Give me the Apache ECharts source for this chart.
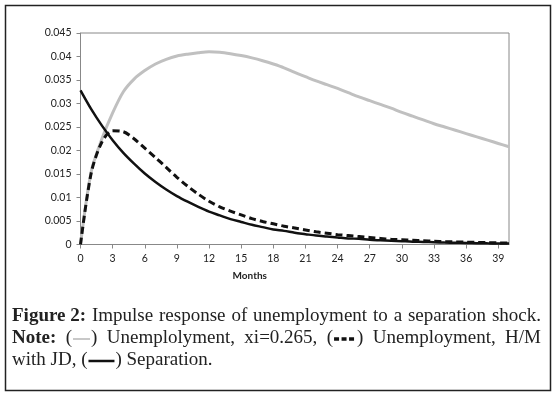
<!DOCTYPE html>
<html><head><meta charset="utf-8">
<script src="https://cdn.jsdelivr.net/npm/echarts@6/dist/echarts.min.js"></script>
<style>html,body{margin:0;padding:0;background:#fff}#c{width:557px;height:397px}</style>
</head><body><div id="c"></div>
<script>
var months = [];
for (var i = 0; i <= 40; i++) months.push(String(i));
var yTicks = [0, 0.005, 0.01, 0.015, 0.02, 0.025, 0.03, 0.035, 0.04, 0.045];
var unempXi = [0, 0.0155, 0.0225, 0.0280, 0.0325, 0.0352, 0.0370, 0.0384, 0.0394, 0.0401,
  0.0405, 0.0408, 0.0410, 0.0409, 0.0406, 0.0402, 0.0397, 0.0391, 0.0384, 0.0376,
  0.0366, 0.0357, 0.0348, 0.0340, 0.0332, 0.0323, 0.0314, 0.0306, 0.0298, 0.0290,
  0.0281, 0.0273, 0.0265, 0.0257, 0.0250, 0.0243, 0.0236, 0.0229, 0.0222, 0.0215, 0.0208];
var unempHM = [0, 0.0152, 0.0218, 0.0242, 0.0240, 0.0225, 0.0205, 0.0185, 0.0164, 0.0143,
  0.0124, 0.0107, 0.0092, 0.0080, 0.0071, 0.0063, 0.0055, 0.0049, 0.0044, 0.0039,
  0.0035, 0.0031, 0.0027, 0.0024, 0.0021, 0.0019, 0.0017, 0.0015, 0.0013, 0.0011,
  0.0010, 0.0009, 0.0008, 0.0007, 0.0006, 0.00055, 0.0005, 0.00045, 0.0004, 0.00035, 0.0003];
var separation = [0.0328, 0.0288, 0.0253, 0.0222, 0.0195, 0.0172, 0.0151, 0.0133, 0.0117, 0.0103,
  0.0091, 0.0080, 0.0070, 0.0062, 0.0054, 0.0048, 0.0042, 0.0037, 0.0032, 0.0029,
  0.0025, 0.0022, 0.0019, 0.0017, 0.0015, 0.0013, 0.0012, 0.0010, 0.0009, 0.0008,
  0.0007, 0.0006, 0.00055, 0.00048, 0.00042, 0.00037, 0.00033, 0.00029, 0.00025, 0.00022, 0.0002];
var seriesNames = ['Unemplolyment, xi=0.265', 'Unemployment, H/M with JD', 'Separation'];
var xTitle = 'Months';
// caption lines: words made of parts (text or legend glyph)
var captionLines = [
  {justify: true, words: [[{t: 'Figure 2:', b: 1}], [{t: 'Impulse'}], [{t: 'response'}], [{t: 'of'}], [{t: 'unemployment'}], [{t: 'to'}], [{t: 'a'}], [{t: 'separation'}], [{t: 'shock.'}]]},
  {justify: true, words: [[{t: 'Note:', b: 1}], [{t: '('}, {g: 'gray'}, {t: ')'}], [{t: 'Unemplolyment,'}], [{t: 'xi=0.265,'}], [{t: '('}, {g: 'dash'}, {t: ')'}], [{t: 'Unemployment,'}], [{t: 'H/M'}]]},
  {justify: false, words: [[{t: 'with'}], [{t: 'JD,'}], [{t: '('}, {g: 'solid'}, {t: ')'}], [{t: 'Separation.'}]]}
];

var serif = '"Liberation Serif", "DejaVu Serif", serif';
var capSize = 19;
var glyphs = {
  gray: {w: 17, stroke: '#c8c8c8', lw: 2, dash: null},
  dash: {w: 22, stroke: '#111', lw: 3.5, dash: [5, 2.5]},
  solid: {w: 26, stroke: '#111', lw: 2.5, dash: null}
};
var mctx = document.createElement('canvas').getContext('2d');
function tw(s, b) {
  mctx.font = (b ? 'bold ' : '') + capSize + 'px ' + serif;
  return mctx.measureText(s).width;
}
function partW(p) { return p.g ? glyphs[p.g].w + 2 : tw(p.t, p.b); }
function wordW(w) { var s = 0; w.forEach(function (p) { s += partW(p); }); return s; }
var capLeft = 12, capRight = 541, capY0 = 316, capLH = 22;
var capGraphics = [];
captionLines.forEach(function (line, li) {
  var y = capY0 + li * capLH;
  var total = 0;
  line.words.forEach(function (w) { total += wordW(w); });
  var gap = line.justify ? (capRight - capLeft - total) / (line.words.length - 1) : tw(' ', 0);
  var x = capLeft;
  line.words.forEach(function (w) {
    w.forEach(function (p) {
      if (p.g) {
        var g = glyphs[p.g];
        var st = {stroke: g.stroke, lineWidth: g.lw};
        if (g.dash) st.lineDash = g.dash;
        capGraphics.push({type: 'line', silent: true, shape: {x1: x + 1, y1: y + 1, x2: x + 1 + g.w, y2: y + 1}, style: st});
      } else {
        capGraphics.push({type: 'text', silent: true, x: x, y: y, style: {text: p.t, fontFamily: serif, fontSize: capSize,
          fontWeight: p.b ? 'bold' : 'normal', fill: '#222', textAlign: 'left', textVerticalAlign: 'middle'}});
      }
      x += partW(p);
    });
    x += gap;
  });
});

var chart = echarts.init(document.getElementById('c'), null, {renderer: 'canvas'});
var axFont = 'Lato, "Open Sans", sans-serif';
chart.setOption({
  animation: false,
  grid: {left: 80.5, right: 48, top: 33, bottom: 152.5, show: true, borderColor: '#888', borderWidth: 1},
  xAxis: {
    type: 'category', data: months, boundaryGap: false,
    name: xTitle, nameLocation: 'middle', nameGap: 26,
    nameTextStyle: {fontFamily: axFont, fontSize: 10, fontWeight: 'bold', color: '#222', padding: [0, 90, 0, 0]},
    axisLine: {lineStyle: {color: '#888', width: 1}},
    axisTick: {interval: 2, length: 4, lineStyle: {color: '#888'}},
    axisLabel: {interval: 2, fontFamily: axFont, fontSize: 10.5, color: '#222', margin: 9},
    splitLine: {show: false}
  },
  yAxis: {
    type: 'value', min: yTicks[0], max: yTicks[yTicks.length - 1], interval: 0.005,
    axisLine: {show: true, lineStyle: {color: '#888', width: 1}},
    axisTick: {show: true, length: 4, lineStyle: {color: '#888'}},
    axisLabel: {fontFamily: axFont, fontSize: 10.5, color: '#222', margin: 9,
      formatter: function (v) { return String(+v.toFixed(3)); }},
    splitLine: {show: false}
  },
  series: [
    {name: seriesNames[0], type: 'line', data: unempXi, smooth: 0.3, symbol: 'none', z: 2,
      lineStyle: {color: '#c0c0c0', width: 3}},
    {name: seriesNames[1], type: 'line', data: unempHM, smooth: 0.3, symbol: 'none', z: 3,
      lineStyle: {color: '#111', width: 3, type: [7, 4]}},
    {name: seriesNames[2], type: 'line', data: separation, smooth: 0.3, symbol: 'none', z: 4,
      lineStyle: {color: '#111', width: 2.5}}
  ],
  graphic: [
    {type: 'rect', shape: {x: 5.5, y: 5.5, width: 545, height: 385}, style: {fill: 'none', stroke: '#222', lineWidth: 1.5}, silent: true}
  ].concat(capGraphics)
});
</script></body></html>
